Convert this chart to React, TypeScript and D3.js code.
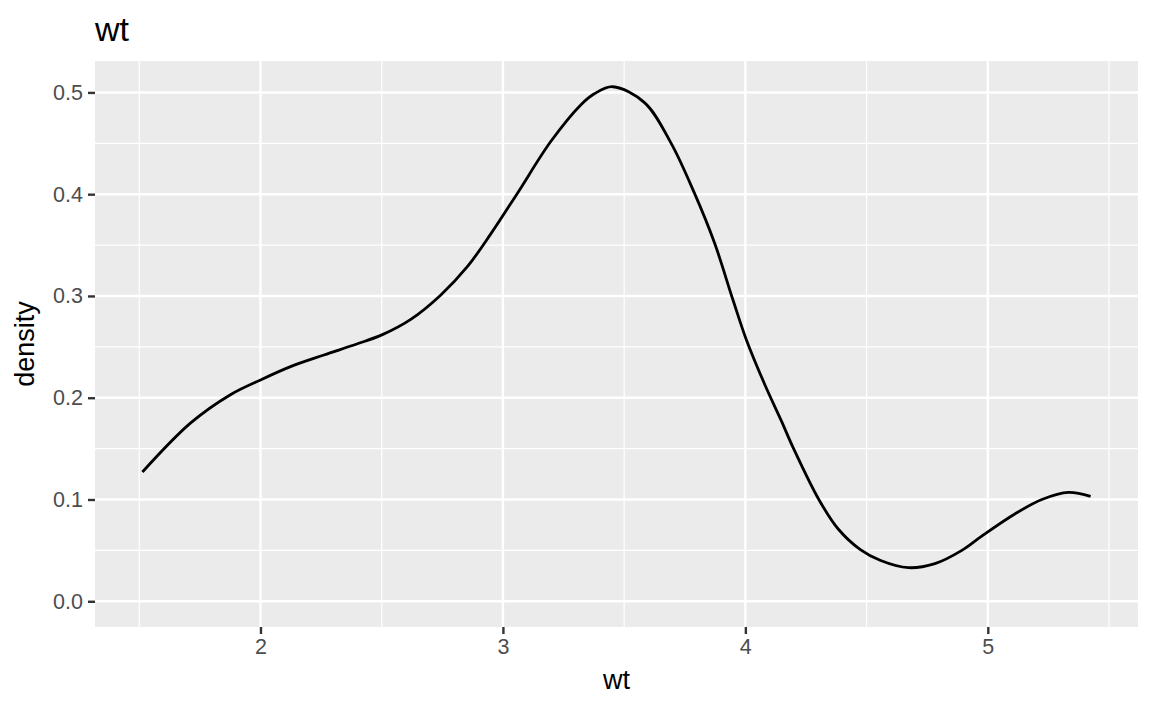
import * as d3 from 'd3';
import React, { useRef, useEffect } from 'react';

const width = 1152;
const height = 711;

const panel = {
  left: 95,
  right: 1138,
  top: 61,
  bottom: 627,
};

// density curve of wt
const wtValues = [
  1.513, 1.711, 1.876, 2.0, 2.124, 2.262, 2.4, 2.503, 2.62, 2.744, 2.854, 2.95,
  3.06, 3.198, 3.322, 3.377, 3.453, 3.584, 3.694, 3.79, 3.873, 3.949, 4.004,
  4.08, 4.149, 4.197, 4.303, 4.383, 4.473, 4.558, 4.672, 4.782, 4.893, 4.975,
  5.113, 5.223, 5.333, 5.424,
];
const densityValues = [
  0.127, 0.175, 0.203, 0.2175, 0.2306, 0.242, 0.253, 0.262, 0.277, 0.301,
  0.329, 0.361, 0.401, 0.452, 0.488, 0.4987, 0.5056, 0.49, 0.45, 0.401, 0.352,
  0.296, 0.257, 0.213, 0.177, 0.151, 0.1, 0.071, 0.051, 0.04, 0.033, 0.037,
  0.05, 0.064, 0.086, 0.1, 0.107, 0.103,
];

const xTicks = [2, 3, 4, 5];
const xMinorTicks = [1.5, 2.5, 3.5, 4.5, 5.5];
const yTicks = [0, 0.1, 0.2, 0.3, 0.4, 0.5];
const yMinorTicks = [0.05, 0.15, 0.25, 0.35, 0.45];

const font = '"Liberation Sans", Arial, Helvetica, sans-serif';

const DensityChart = () => {
  const containerRef = useRef<HTMLDivElement>(null);

  useEffect(() => {
    if (!containerRef.current) return;
    d3.select(containerRef.current).selectAll('*').remove();

    const svg = d3
      .select(containerRef.current)
      .append('svg')
      .attr('width', width)
      .attr('height', height)
      .style('position', 'absolute')
      .style('left', '0px')
      .style('top', '0px')
      .style('font-family', font);

    svg.append('rect').attr('width', width).attr('height', height).attr('fill', '#ffffff');

    // ggplot-style expansion (5% each side)
    const xMin = d3.min(wtValues) as number;
    const xMax = d3.max(wtValues) as number;
    const xPad = (xMax - xMin) * 0.05;
    const yMax = d3.max(densityValues) as number;
    const yPad = yMax * 0.05;

    const x = d3
      .scaleLinear()
      .domain([xMin - xPad, xMax + xPad])
      .range([panel.left, panel.right]);
    const y = d3
      .scaleLinear()
      .domain([-yPad, yMax + yPad])
      .range([panel.bottom, panel.top]);

    svg
      .append('rect')
      .attr('x', panel.left)
      .attr('y', panel.top)
      .attr('width', panel.right - panel.left)
      .attr('height', panel.bottom - panel.top)
      .attr('fill', '#EBEBEB');

    const grid = svg.append('g');

    grid
      .selectAll('.ymin')
      .data(yMinorTicks)
      .join('line')
      .attr('x1', panel.left)
      .attr('x2', panel.right)
      .attr('y1', (d) => y(d))
      .attr('y2', (d) => y(d))
      .attr('stroke', '#ffffff')
      .attr('stroke-width', 1.2);

    grid
      .selectAll('.xmin')
      .data(xMinorTicks.filter((d) => x(d) <= panel.right))
      .join('line')
      .attr('y1', panel.top)
      .attr('y2', panel.bottom)
      .attr('x1', (d) => x(d))
      .attr('x2', (d) => x(d))
      .attr('stroke', '#ffffff')
      .attr('stroke-width', 1.2);

    grid
      .selectAll('.ymaj')
      .data(yTicks)
      .join('line')
      .attr('x1', panel.left)
      .attr('x2', panel.right)
      .attr('y1', (d) => y(d))
      .attr('y2', (d) => y(d))
      .attr('stroke', '#ffffff')
      .attr('stroke-width', 2.4);

    grid
      .selectAll('.xmaj')
      .data(xTicks)
      .join('line')
      .attr('y1', panel.top)
      .attr('y2', panel.bottom)
      .attr('x1', (d) => x(d))
      .attr('x2', (d) => x(d))
      .attr('stroke', '#ffffff')
      .attr('stroke-width', 2.4);

    // density line
    const points: [number, number][] = wtValues.map((w, i) => [w, densityValues[i]]);
    const line = d3
      .line<[number, number]>()
      .x((d) => x(d[0]))
      .y((d) => y(d[1]))
      .curve(d3.curveCatmullRom.alpha(0.5));

    svg
      .append('path')
      .datum(points)
      .attr('d', line)
      .attr('fill', 'none')
      .attr('stroke', '#000000')
      .attr('stroke-width', 2.8);

    // axes
    const xAxis = d3
      .axisBottom(x)
      .tickValues(xTicks)
      .tickFormat(d3.format('d'))
      .tickSize(7)
      .tickPadding(5);
    const yAxis = d3
      .axisLeft(y)
      .tickValues(yTicks)
      .tickFormat(d3.format('.1f'))
      .tickSize(7)
      .tickPadding(5);

    const gx = svg
      .append('g')
      .attr('transform', `translate(0, ${panel.bottom})`)
      .call(xAxis);
    const gy = svg
      .append('g')
      .attr('transform', `translate(${panel.left}, 0)`)
      .call(yAxis);

    [gx, gy].forEach((g) => {
      g.select('.domain').remove();
      g.selectAll('.tick line').attr('stroke', '#333333').attr('stroke-width', 2.4);
      g.selectAll('.tick text')
        .attr('fill', '#4D4D4D')
        .style('font-size', '21.5px')
        .style('font-family', font);
    });

    // titles
    svg
      .append('text')
      .attr('x', panel.left)
      .attr('y', 41)
      .attr('fill', '#000000')
      .style('font-size', '34px')
      .text('wt');

    svg
      .append('text')
      .attr('x', (panel.left + panel.right) / 2)
      .attr('y', 689)
      .attr('text-anchor', 'middle')
      .attr('fill', '#000000')
      .style('font-size', '27px')
      .text('wt');

    svg
      .append('text')
      .attr('transform', `translate(34, ${(panel.top + panel.bottom) / 2}) rotate(-90)`)
      .attr('text-anchor', 'middle')
      .attr('fill', '#000000')
      .style('font-size', '27px')
      .text('density');
  }, [containerRef]);

  return <div ref={containerRef}></div>;
};

export default function App() {
  return <DensityChart />;
}
